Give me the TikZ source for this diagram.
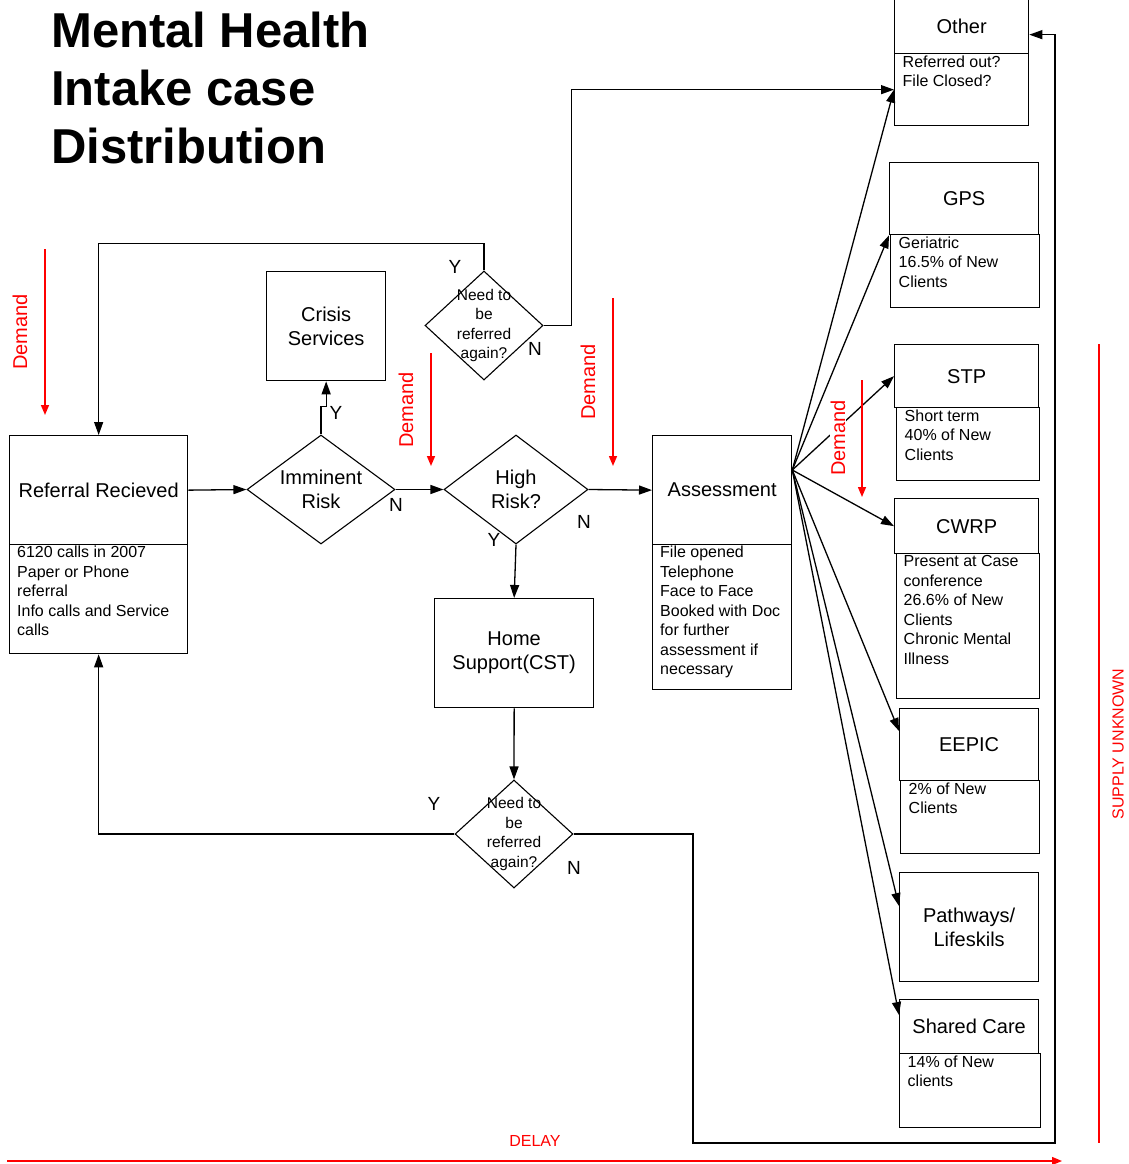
\documentclass[tikz,border=0pt]{standalone}
\usepackage{fontspec}
\setmainfont{Liberation Sans}
\usetikzlibrary{shapes.geometric,arrows.meta,calc}
\definecolor{redline}{RGB}{255,0,0}
\begin{document}
\begin{tikzpicture}[x=1pt,y=-1pt,
  box/.style={draw, line width=1.3pt, inner sep=0pt, anchor=north west, align=center,
    font=\fontsize{20}{24}\selectfont},
  dia/.style={draw, diamond, line width=1.1pt, inner sep=0pt},
  dlab/.style={align=center, inner sep=0pt, font=\fontsize{15.5}{19.5}\selectfont},
  bigdlab/.style={align=center, inner sep=0pt, font=\fontsize{20}{23.5}\selectfont},
  txt/.style={anchor=north west, inner sep=0pt, align=left, font=\fontsize{16}{19.5}\selectfont},
  yn/.style={inner sep=0pt, font=\fontsize{19}{22}\selectfont},
  arr/.style={-{Triangle[length=13pt,width=9pt]}, line width=1.3pt},
  redarr/.style={-{Triangle[length=10pt,width=8pt]}, line width=1.5pt, draw=redline, fill=redline},
  redtxt/.style={text=redline, inner sep=1pt, font=\fontsize{20}{24}\selectfont},
  redsmall/.style={text=redline, inner sep=0pt, font=\fontsize{16}{19}\selectfont}
]
\useasboundingbox (0,0) rectangle (1128,1164);

% Title
\node[anchor=north west, inner sep=0pt, align=left, font=\fontsize{49}{58}\selectfont\bfseries]
  (title) at (51,12) {Mental Health\\Intake case\\Distribution};

% Referral Recieved
\node[box, minimum width=178pt, minimum height=109pt] (ref) at (9,435) {Referral Recieved};
\node[box, minimum width=178pt, minimum height=109pt] (refd) at (9,544) {};
\node[txt] (reft) at ([xshift=8pt,yshift=-2pt]refd.north west)
  {6120 calls in 2007\\Paper or Phone\\referral\\Info calls and Service\\calls};

% Crisis
\node[box, minimum width=119pt, minimum height=109pt] (crisis) at (266,271) {Crisis\\Services};

% Diamonds
\node[dia, minimum width=148pt, minimum height=109pt,
  label={[bigdlab]center:Imminent\\Risk}] (imm) at (321,489.5) {};
\node[dia, minimum width=144pt, minimum height=109pt,
  label={[bigdlab]center:High\\Risk?}] (high) at (516,489.5) {};
\node[dia, minimum width=118pt, minimum height=109pt,
  label={[dlab]center:Need to\\be\\referred\\again?}] (nda) at (484,325.5) {};
\node[dia, minimum width=118pt, minimum height=108pt,
  label={[dlab]center:Need to\\be\\referred\\again?}] (ndb) at (514,834) {};

% Home support
\node[box, minimum width=159pt, minimum height=109pt] (home) at (434,598) {Home\\Support(CST)};

% Assessment
\node[box, minimum width=139pt, minimum height=109pt] (assess) at (652,435) {Assessment};
\node[box, minimum width=139pt, minimum height=145pt] (assessd) at (652,544) {};
\node[txt] (assesst) at ([xshift=8pt,yshift=-2pt]assessd.north west)
  {File opened\\Telephone\\Face to Face\\Booked with Doc\\for further\\assessment if\\necessary};

% Right column
\node[box, minimum width=134pt, minimum height=55pt] (other) at (894,-2) {Other};
\node[box, minimum width=134pt, minimum height=72pt] (otherd) at (894,53) {};
\node[txt] (othert) at ([xshift=8.5pt,yshift=-2.5pt]otherd.north west) {Referred out?\\File Closed?};

\node[box, minimum width=149pt, minimum height=72pt] (gps) at (889,162) {GPS};
\node[box, minimum width=149pt, minimum height=73pt] (gpsd) at (890,234) {};
\node[txt] (gpst) at ([xshift=8.5pt,yshift=-2.5pt]gpsd.north west) {Geriatric\\16.5\% of New\\Clients};

\node[box, minimum width=144pt, minimum height=63pt] (stp) at (894,344) {STP};
\node[box, minimum width=143pt, minimum height=73pt] (stpd) at (896,407) {};
\node[txt] (stpt) at ([xshift=8.5pt,yshift=-2.5pt]stpd.north west) {Short term\\40\% of New\\Clients};

\node[box, minimum width=144pt, minimum height=55pt] (cwrp) at (894,498) {CWRP};
\node[box, minimum width=143pt, minimum height=145pt] (cwrpd) at (896,553) {};
\node[txt] (cwrpt) at ([xshift=7.5pt,yshift=-2.5pt]cwrpd.north west)
  {Present at Case\\conference\\26.6\% of New\\Clients\\Chronic Mental\\Illness};

\node[box, minimum width=139pt, minimum height=72pt] (eepic) at (899,708) {EEPIC};
\node[box, minimum width=139pt, minimum height=73pt] (eepicd) at (900,780) {};
\node[txt] (eepict) at ([xshift=8.5pt,yshift=-2.5pt]eepicd.north west) {2\% of New\\Clients};

\node[box, minimum width=139pt, minimum height=109pt] (path) at (899,872) {Pathways/\\Lifeskils};

\node[box, minimum width=139pt, minimum height=54pt] (shared) at (899,999) {Shared Care};
\node[box, minimum width=141pt, minimum height=74pt] (sharedd) at (899,1053) {};
\node[txt] (sharedt) at ([xshift=8.5pt,yshift=-2.5pt]sharedd.north west) {14\% of New\\clients};

% Main flow connectors
\draw[arr] (ref.east) -- (imm.west);
\draw[arr] (imm.east) -- (high.west);
\draw[arr] (high.east) -- (assess.west);
\draw[arr] (imm.north) -- ++(0,-28) -| (crisis.south);
\draw[arr] (high.south) -- (home.north);
\draw[arr] (home.south) -- (ndb.north);
\draw[arr] (nda.north) -- ++(0,-27) -| (ref.north);
\draw[arr] (nda.east) -- ++(28,0) |- (otherd.west);
\draw[arr] (ndb.west) -| (refd.south);
\coordinate (cornA) at (693,1143);
\coordinate (cornB) at (1055,1143);
\draw[arr] (ndb.east) -| (cornA) -- (cornB) |- ($(other.east)+(0,8.5)$);

% Fan from assessment
\coordinate (fan) at ($(assess.north east)+(0,35)$);
\draw[arr] (fan) -- (otherd.west);
\draw[arr] (fan) -- (gps.south west);
\draw[arr] (fan) -- (stp.west);
\draw[arr] (fan) -- (cwrp.west);
\draw[arr] (fan) -- ($(eepic.north west)+(0,23)$);
\draw[arr] (fan) -- ($(path.north west)+(0,34)$);
\draw[arr] (fan) -- ($(shared.north west)+(0,16)$);

% Y / N labels
\node[yn] (y1) at (455,267) {Y};
\node[yn] (n1) at (535,349) {N};
\node[yn] (y2) at (336,413) {Y};
\node[yn] (n2) at (396,505) {N};
\node[yn] (n3) at (584,522) {N};
\node[yn] (y3) at (494,540) {Y};
\node[yn] (y4) at (434,804) {Y};
\node[yn] (n4) at (574,868) {N};

% Red annotations
\draw[redarr] (45,249) -- (45,415);
\node[redtxt, rotate=90] (dem1) at (20,332) {Demand};
\draw[redarr] (431,353) -- (431,466);
\node[redtxt, rotate=90] (dem2) at (406,410) {Demand};
\draw[redarr] (613,298) -- (613,466);
\node[redtxt, rotate=90] (dem3) at (588,382) {Demand};
\draw[redarr] (862,380) -- (862,497);
\node[redtxt, rotate=90, fill=white] (dem4) at (838,438) {Demand};

\draw[line width=1.5pt, draw=redline] (1099,344) -- (1099,1143);
\node[redsmall, rotate=90] (supply) at (1118,744) {SUPPLY UNKNOWN};
\draw[redarr] (7,1161) -- (1062,1161);
\node[redsmall] (delay) at (535,1141) {DELAY};
\end{tikzpicture}
\end{document}
